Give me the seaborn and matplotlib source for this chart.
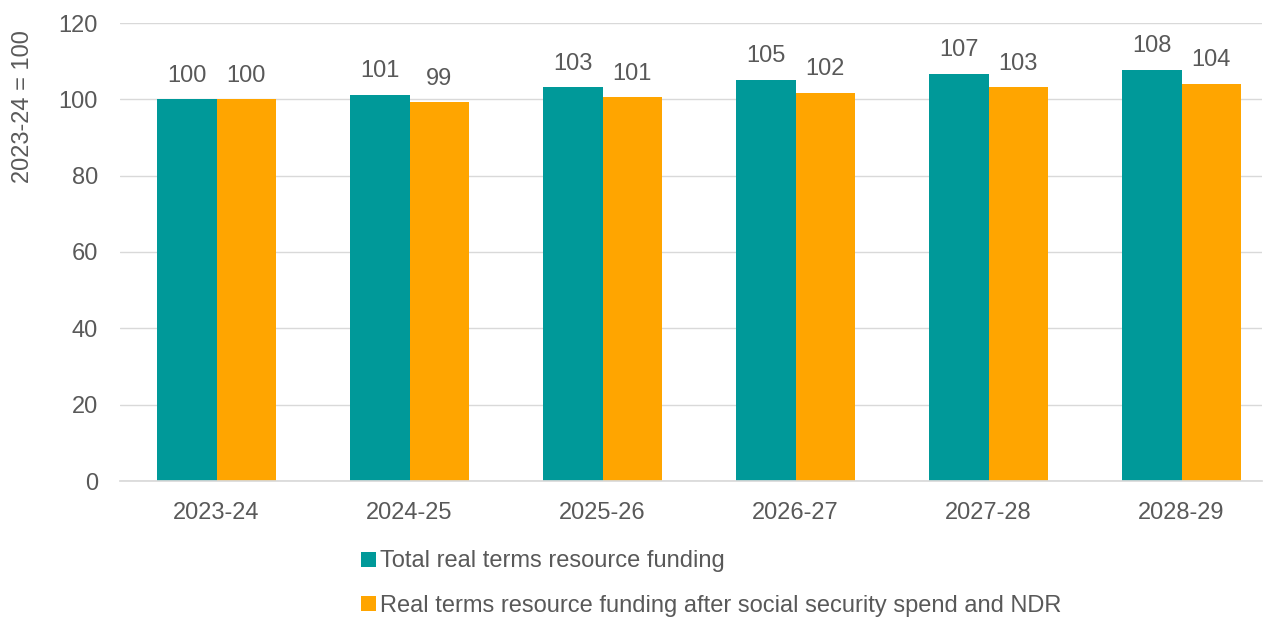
import numpy as np
import pandas as pd
import matplotlib
matplotlib.use("Agg")
import matplotlib.pyplot as plt
import seaborn as sns

years = ["2023-24", "2024-25", "2025-26", "2026-27", "2027-28", "2028-29"]
total_funding = [100.0, 101.2, 103.2, 105.1, 106.7, 107.8]
after_ss_ndr = [100.0, 99.3, 100.6, 101.7, 103.2, 104.1]
series_names = ["Total real terms resource funding",
                "Real terms resource funding after social security spend and NDR"]

data = pd.DataFrame({
    "year": years * 2,
    "value": total_funding + after_ss_ndr,
    "series": [series_names[0]] * len(years) + [series_names[1]] * len(years),
})

sns.set_theme(style="white")
plt.rcParams["font.family"] = ["Liberation Sans", "DejaVu Sans"]
text_color = "#595959"
fs = 17

fig = plt.figure(figsize=(12.67, 6.17), dpi=100)
ax = fig.add_axes([120 / 1267, 1 - 481 / 617, 1142 / 1267, 458 / 617])

sns.barplot(data=data, x="year", y="value", hue="series",
            palette=["#009999", "#FFA500"], width=0.62, gap=0,
            saturation=1, linewidth=0, ax=ax, legend=True)

for cont in ax.containers:
    ax.bar_label(cont, fmt="%.0f", padding=9, fontsize=fs, color=text_color)

ax.set_ylim(0, 120)
ax.set_yticks(np.arange(0, 121, 20))
ax.set_xlim(-0.5, -0.5 + 1142 / 193)
ax.yaxis.grid(True, color="#d9d9d9", linewidth=1)
ax.set_axisbelow(True)
for s in ["top", "right", "left"]:
    ax.spines[s].set_visible(False)
ax.spines["bottom"].set_color("#d9d9d9")
ax.tick_params(axis="both", length=0, labelsize=fs, colors=text_color)
ax.tick_params(axis="x", pad=15)
ax.tick_params(axis="y", pad=16)
ax.set_xlabel("")
ax.set_ylabel("2023-24 = 100", fontsize=fs, color=text_color)
ax.yaxis.set_label_coords(-86 / 1142, 1 - 84 / 458)

handles, labels = ax.get_legend_handles_labels()
ax.get_legend().remove()
fig.legend(handles, labels, loc="upper left", bbox_to_anchor=(352 / 1267, 1 - 541 / 617),
           ncol=1, frameon=False, fontsize=fs, labelcolor=text_color,
           handlelength=0.6, handleheight=0.6, handletextpad=0.2, labelspacing=0.95,
           borderaxespad=0)

fig.savefig("out.png", dpi=100)
plt.close(fig)
